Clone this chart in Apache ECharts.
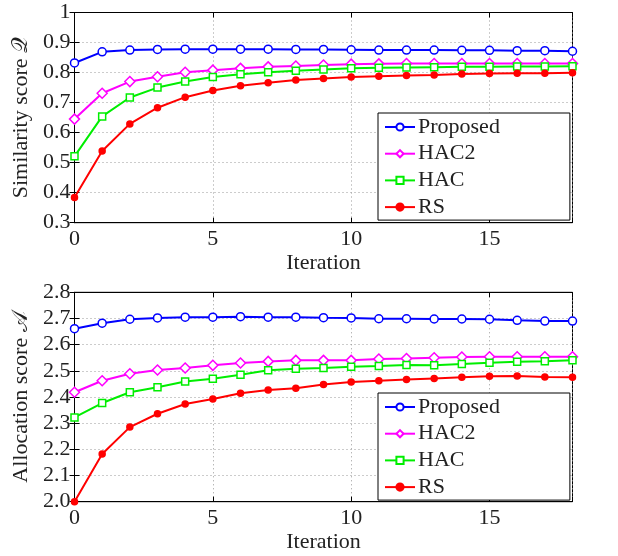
<!DOCTYPE html>
<html><head><meta charset="utf-8">
<script src="https://cdn.jsdelivr.net/npm/echarts@6/dist/echarts.min.js"></script>
<style>html,body{margin:0;padding:0;background:#fff}#c{width:618px;height:556px}</style>
</head><body><div id="c"></div>
<script>
const iterations = [0,1,2,3,4,5,6,7,8,9,10,11,12,13,14,15,16,17,18];
const seriesNames = ['Proposed','HAC2','HAC','RS'];
// Top: similarity score Q
const simProposed = [0.832,0.869,0.875,0.877,0.878,0.878,0.878,0.878,0.877,0.877,0.876,0.875,0.875,0.875,0.874,0.874,0.873,0.873,0.871];
const simHAC2 = [0.645,0.731,0.770,0.786,0.801,0.808,0.814,0.819,0.822,0.825,0.828,0.829,0.830,0.830,0.830,0.830,0.830,0.830,0.830];
const simHAC = [0.521,0.654,0.717,0.750,0.770,0.785,0.794,0.801,0.806,0.810,0.814,0.816,0.817,0.818,0.819,0.819,0.820,0.820,0.821];
const simRS = [0.384,0.539,0.629,0.683,0.718,0.740,0.756,0.766,0.775,0.780,0.785,0.788,0.790,0.792,0.795,0.797,0.798,0.798,0.799];
// Bottom: allocation score A
const allocProposed = [2.661,2.682,2.697,2.702,2.705,2.705,2.707,2.705,2.705,2.703,2.702,2.699,2.699,2.698,2.698,2.697,2.693,2.690,2.690];
const allocHAC2 = [2.418,2.462,2.489,2.503,2.511,2.521,2.530,2.536,2.540,2.540,2.540,2.545,2.547,2.550,2.553,2.554,2.554,2.554,2.554];
const allocHAC = [2.322,2.377,2.418,2.437,2.459,2.470,2.485,2.502,2.508,2.511,2.516,2.518,2.522,2.521,2.526,2.531,2.535,2.537,2.540];
const allocRS = [2.000,2.182,2.285,2.336,2.373,2.392,2.414,2.427,2.433,2.448,2.457,2.462,2.467,2.471,2.475,2.479,2.480,2.476,2.475];
const xTicks = [0,5,10,15];
const simTicks = [0.3,0.4,0.5,0.6,0.7,0.8,0.9,1];
const allocTicks = [2.0,2.1,2.2,2.3,2.4,2.5,2.6,2.7,2.8];

const FONT = '"Liberation Serif", "Times New Roman", serif';
const TXT = '#222';
const styles = {
  'Proposed': {color:'#0000ff', symbol:'circle', size:8, fill:'#fff'},
  'HAC2': {color:'#ff00ff', symbol:'diamond', size:10, fill:'#fff'},
  'HAC': {color:'#00ee00', symbol:'rect', size:7, fill:'#fff'},
  'RS': {color:'#ff0000', symbol:'circle', size:6, fill:'#ff0000'}
};
const grids = [
  {left:74.5, right:45.5, top:12.5, height:210.2, show:true, borderColor:'#000', borderWidth:1, z:0},
  {left:74.5, right:45.5, top:292.3, height:209.4, show:true, borderColor:'#000', borderWidth:1, z:0}
];
function xAx(gi, pos, showLabels){
  return {type:'value', gridIndex:gi, position:pos, min:0, max:18, interval:5,
    name: showLabels ? 'Iteration' : '', nameLocation:'middle', nameGap:30,
    nameTextStyle:{fontFamily:FONT, fontSize:22, color:TXT},
    axisLine:{show:true, lineStyle:{color:'#000'}},
    axisTick:{show:true, inside:true, length:5, lineStyle:{color:'#000'}},
    axisLabel:{show:showLabels, fontFamily:FONT, fontSize:22, color:TXT, margin:6,
      formatter:v => xTicks.includes(v) ? String(v) : ''},
    splitLine:{show:pos==='bottom', lineStyle:{color:'#999', type:[1,3]}}};
}
function yAx(gi, pos, min, max, name, showLabels, fmt){
  return {type:'value', gridIndex:gi, position:pos, min:min, max:max, interval:0.1,
    name: showLabels ? name : '', nameLocation:'middle', nameGap:41,
    nameTextStyle:{fontFamily:FONT, fontSize:22, color:TXT},
    axisLine:{show:true, lineStyle:{color:'#000'}},
    axisTick:{show:true, inside:true, length:5, lineStyle:{color:'#000'}},
    axisLabel:{show:showLabels, fontFamily:FONT, fontSize:22, color:TXT, margin:4, formatter:fmt},
    splitLine:{show:pos==='left', lineStyle:{color:'#999', type:[1,3]}}};
}
const simFmt = v => { const r = Math.round(v*10)/10; return simTicks.includes(r) ? (r===1 ? '1' : r.toFixed(1)) : ''; };
const allocFmt = v => { const r = Math.round(v*10)/10; return r.toFixed(1); };

function mk(name, data, gi){
  const s = styles[name];
  return {name:name, type:'line', xAxisIndex:gi*2, yAxisIndex:gi*2, data:iterations.map((x,i)=>[x,data[i]]),
    symbol:s.symbol, symbolSize:s.size, showSymbol:true,
    lineStyle:{color:s.color, width:2}, itemStyle:{color:s.fill, borderColor:s.color, borderWidth:1.5},
    emphasis:{disabled:true}, animation:false, z:3};
}
const series = [
  mk('Proposed', simProposed, 0), mk('HAC2', simHAC2, 0), mk('HAC', simHAC, 0), mk('RS', simRS, 0),
  mk('Proposed', allocProposed, 1), mk('HAC2', allocHAC2, 1), mk('HAC', allocHAC, 1), mk('RS', allocRS, 1)
];
function legend(top){
  return {show:true, orient:'vertical', left:378, top:top, 
    data:seriesNames, itemWidth:30, itemHeight:9, itemGap:4.7, selectedMode:false,
    backgroundColor:'#fff', borderColor:'#000', borderWidth:1, padding:[3,70,2,6],
    textStyle:{fontFamily:FONT, fontSize:22, color:TXT, lineHeight:22, padding:[0,0,0,-2]}, z:10};
}
const chart = echarts.init(document.getElementById('c'), null, {renderer:'canvas'});
chart.setOption({
  animation:false,
  backgroundColor:'#fff',
  grid: grids,
  xAxis: [xAx(0,'bottom',true), xAx(0,'top',false), xAx(1,'bottom',true), xAx(1,'top',false)],
  yAxis: [yAx(0,'left',0.3,1,'Similarity score 𝒬',true,simFmt), yAx(0,'right',0.3,1,'',false,simFmt),
          yAx(1,'left',2.0,2.8,'Allocation score 𝒜',true,allocFmt), yAx(1,'right',2.0,2.8,'',false,allocFmt)],
  legend: [legend(113), legend(393)],
  series: series
});
</script></body></html>
